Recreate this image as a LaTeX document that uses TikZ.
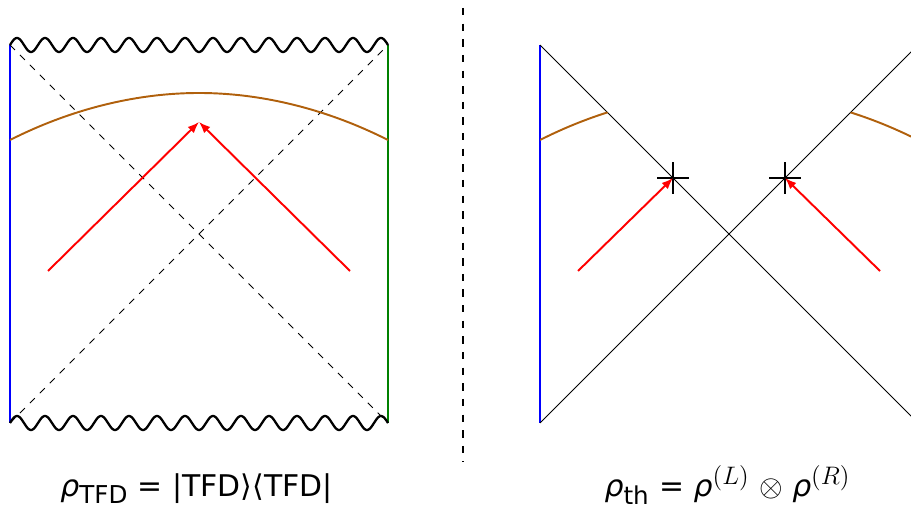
\documentclass[tikz,border=0pt]{standalone}
\usepackage[no-math]{fontspec}
\setmainfont{DejaVu Sans}
\DeclareMathSizes{17}{17}{14}{10}
\usetikzlibrary{arrows.meta, math}
\definecolor{qbrown}{RGB}{176,96,12}
\definecolor{qgreen}{RGB}{0,128,0}

\begin{document}
\begin{tikzpicture}[x=0.02cm,y=0.02cm,
  wall/.style={line width=1.1pt},
  sing/.style={line width=1.3pt, line join=round},
  horizon/.style={line width=0.5pt, dash pattern=on 4pt off 4pt},
  edge/.style={line width=0.5pt},
  brane/.style={line width=1.1pt, color=qbrown},
  signal/.style={line width=1.1pt, color=red, -{Latex[length=6.5pt,width=5pt]}},
  marker/.style={line width=1.4pt},
  formula/.style={anchor=base, font=\fontsize{17}{20}\selectfont}]
\tikzmath{
\L=378;
\m=\L/2;
\xs=38;
\ys=152;
\yb=330;
\ye=283;
\c=16;
\wa=7;
\wl=28;
}
\clip (-10,-86) rectangle (901,423);

%left part:
%corners
\coordinate (bl) at (0,0);
\coordinate (tl) at (0,\L);
\coordinate (br) at (\L,0);
\coordinate (tr) at (\L,\L);
%boundaries
\draw[wall, blue] (bl) -- (tl);
\draw[wall, qgreen] (br) -- (tr);
%singularities
\draw[sing] plot[domain=0:\L, samples=400] (\x, {\L+\wa*sin(\x/\wl*360)});
\draw[sing] plot[domain=0:\L, samples=400] (\x, {\wa*sin(\x/\wl*360)});
%horizons
\draw[horizon] (bl) -- (tr);
\draw[horizon] (tl) -- (br);
%brane
\draw[brane] (0,\ye) parabola bend (\m,\yb) (\L,\ye);
%signals
\coordinate (inL) at (\xs,\ys);
\coordinate (inR) at (\L-\xs,\ys);
\coordinate (meet) at (\m,301);
\draw[signal] (inL) -- (meet);
\draw[signal] (inR) -- (meet);
%labels
\node[formula] (tfd) at (186.5,-73) {\textit{ρ}\textsubscript{TFD} = |TFD⟩⟨TFD|};

%separator
\coordinate (septop) at (453,415);
\coordinate (sepbot) at (453,-39);
\draw[line width=0.6pt, dash pattern=on 4.2pt off 4.7pt] (septop) -- (sepbot);

%right part:
\begin{scope}[shift={(530,0)}]
\coordinate (bl2) at (0,0);
\coordinate (tl2) at (0,\L);
\coordinate (br2) at (\L,0);
\coordinate (tr2) at (\L,\L);
%boundary and horizons
\draw[wall, blue] (bl2) -- (tl2);
\draw[edge] (tl2) -- (br2);
\draw[edge] (bl2) -- (tr2);
%brane pieces
\begin{scope}
\clip (tl2) -- (br2) -- (bl2) -- cycle;
\draw[brane] (0,\ye) parabola bend (\m,\yb) (\L,\ye);
\end{scope}
\begin{scope}
\clip (bl2) -- (tr2) -- (br2) -- cycle;
\draw[brane] (0,\ye) parabola bend (\m,\yb) (\L,\ye);
\end{scope}
%markers
\coordinate (qL) at (133,245);
\coordinate (qR) at (245,245);
\draw[marker] (qL) ++(-\c,0) -- ++(2*\c,0) (qL) ++(0,-\c) -- ++(0,2*\c);
\draw[marker] (qR) ++(-\c,0) -- ++(2*\c,0) (qR) ++(0,-\c) -- ++(0,2*\c);
%signals
\coordinate (inL2) at (\xs,\ys);
\coordinate (inR2) at (\L-\xs,\ys);
\draw[signal] (inL2) -- (qL);
\draw[signal] (inR2) -- (qR);
%labels
\node[formula] (th) at (187.5,-73) {\textit{ρ}\textsubscript{th} = \textit{ρ}$^{(L)}$ $\otimes$ \textit{ρ}$^{(R)}$};
\end{scope}
\end{tikzpicture}
\end{document}
